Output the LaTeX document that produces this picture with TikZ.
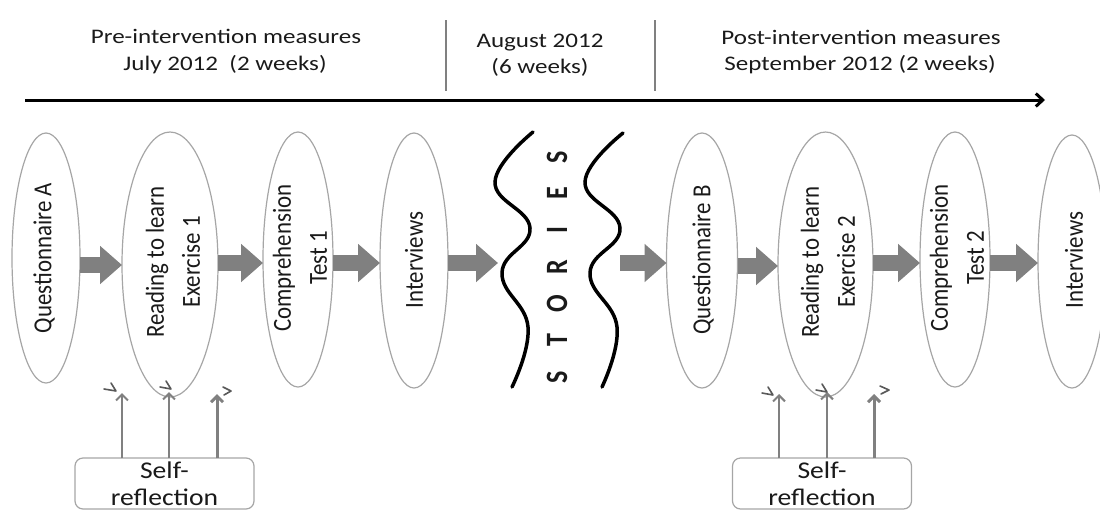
\documentclass[tikz,border=0pt]{standalone}
\usepackage{fontspec}
\setmainfont{Carlito}
\newfontfamily\hdfont[FakeStretch=1.21]{Carlito}
\newfontfamily\elfont[FakeStretch=0.88]{Carlito}
\newfontfamily\srfont[FakeStretch=1.15]{Carlito}
\newfontfamily\stfont[FakeStretch=0.84]{Carlito}
\usetikzlibrary{shapes.geometric,arrows.meta}
\definecolor{txt}{HTML}{1A1A1A}
\definecolor{edge}{HTML}{A6A6A6}
\definecolor{blockgray}{HTML}{808080}
\begin{document}
\begin{tikzpicture}[x=1pt,y=-1pt,
 ell/.style={ellipse, draw=edge, line width=1.2pt, fill=white, outer sep=0pt, inner sep=0pt},
 eltext/.style={rotate=90, align=center, text=txt, inner sep=0pt, font=\elfont\fontsize{26}{36}\selectfont},
 hd/.style={anchor=base, text=txt, inner sep=0pt, font=\hdfont\fontsize{20.7}{26}\selectfont},
 blk/.style={draw=blockgray, line width=16pt, -{Triangle[width=37pt,length=22pt]}},
 sepline/.style={draw=blockgray, line width=1.2pt},
 wave/.style={draw=black, line width=3.5pt, line cap=round},
 srbox/.style={draw=edge, line width=1.2pt, rounded corners=8pt, minimum width=179pt, minimum height=51pt, inner sep=0pt, fill=white, outer sep=0pt, align=center, text=txt, font=\srfont\fontsize{24}{27}\selectfont},
 up/.style={draw=blockgray, line width=2pt, -{Straight Barb[length=6pt,width=12pt]}},
 upthick/.style={up, line width=3pt},
 tick/.style={draw=black!65, line width=1.6pt, line cap=round, line join=round},
 stletters/.style={rotate=90, inner sep=0pt, text=txt, font=\stfont\bfseries\fontsize{31}{31}\selectfont}
]
\useasboundingbox (0,0) rectangle (1100,512);
\clip (0,0) rectangle (1100,512);

% header
\node[hd] (h1a) at (226,43.3) {Pre-intervention measures};
\node[hd] (h1b) at (225,70) {July 2012\ \ (2 weeks)};
\node[hd] (h2a) at (540,47) {August 2012};
\node[hd] (h2b) at (540,73) {(6 weeks)};
\node[hd] (h3a) at (861,44) {Post-intervention measures};
\node[hd] (h3b) at (860,70) {September 2012 (2 weeks)};
\draw[sepline] (446,20) -- (446,91);
\draw[sepline] (655,20) -- (655,91);
\coordinate (tl0) at (25,100);
\coordinate (tl1) at (1045,100);
\draw[line width=3pt, -{Straight Barb[length=7pt,width=13pt]}] (tl0) -- (tl1);

% ellipses
\node[ell, minimum width=68pt, minimum height=250pt] (e1) at (46,258) {};
\node[ell, minimum width=96pt, minimum height=265pt] (e2) at (170,264.5) {};
\node[ell, minimum width=70pt, minimum height=255pt] (e3) at (298,259.5) {};
\node[ell, minimum width=68pt, minimum height=255pt] (e4) at (414,260.5) {};
\node[ell, minimum width=71pt, minimum height=255pt] (e5) at (702,260.5) {};
\node[ell, minimum width=95pt, minimum height=265pt] (e6) at (825.5,264.5) {};
\node[ell, minimum width=70pt, minimum height=255pt] (e7) at (955,259.5) {};
\node[ell, minimum width=68pt, minimum height=253pt] (e8) at (1072,261.5) {};

\node[eltext] (t1) at (e1) [yshift=2pt] {Questionnaire A};
\node[eltext] (t2) at (173,262) {Reading to learn\\Exercise 1};
\node[eltext] (t3) at (300,258) {Comprehension\\Test 1};
\node[eltext] (t4) at (414,260) {Interviews};
\node[eltext] (t5) at (703,260) {Questionnaire B};
\node[eltext] (t6) at (828,262) {Reading to learn\\Exercise 2};
\node[eltext] (t7) at (957,258) {Comprehension\\Test 2};
\node[eltext] (t8) at (1074,260) {Interviews};

% block arrows
\coordinate (ra) at (0,265);
\coordinate (rb) at (0,263);
\coordinate (rc) at (0,266);
\coordinate (w1) at (498,263);
\coordinate (w2) at (620,263);
\draw[blk] (e1.east |- ra) -- (e2.west |- ra);
\draw[blk] (e2.east |- rb) -- (e3.west |- rb);
\draw[blk] (e3.east |- rb) -- (e4.west |- rb);
\draw[blk] (e4.east |- rb) -- (w1);
\draw[blk] (w2) -- (e5.west |- rb);
\draw[blk] (e5.east |- rc) -- (e6.west |- rc);
\draw[blk] (e6.east |- rb) -- (e7.west |- rb);
\draw[blk] (e7.east |- rb) -- (e8.west |- rb);

% stories
\draw[wave] plot[smooth, tension=0.75] coordinates {(533,132) (495,182) (530,228) (502,273) (528,327) (512,387)};
\draw[wave] plot[smooth, tension=0.75] coordinates {(623,133) (585,182) (620,228) (590,273) (617,327) (602,387)};
\node[stletters] (st) at (557,267) {\makebox[36.7pt]{S}\makebox[36.7pt]{T}\makebox[36.7pt]{O}\makebox[36.7pt]{R}\makebox[36.7pt]{I}\makebox[36.7pt]{E}\makebox[36.7pt]{S}};

% self-reflection
\node[srbox] (sr1) at (164.5,483.5) {Self-\\reflection};
\node[srbox] (sr2) at (822,483.5) {Self-\\reflection};
\coordinate (a1) at (122,393);
\coordinate (a2) at (169,392);
\coordinate (a3) at (217,394);
\coordinate (b1) at (779,394);
\coordinate (b2) at (827,392);
\coordinate (b3) at (874,394);
\draw[up] (sr1.north -| a1) -- (a1);
\draw[up] (sr1.north -| a2) -- (a2);
\draw[upthick] (sr1.north -| a3) -- (a3);
\draw[up] (sr2.north -| b1) -- (b1);
\draw[up] (sr2.north -| b2) -- (b2);
\draw[upthick] (sr2.north -| b3) -- (b3);
% small tick marks near the arrow tips
\draw[tick] (111,383) -- (116,391) -- (104,389);
\draw[tick] (166,381) -- (171,389) -- (160,387);
\draw[tick] (223,387) -- (231,391) -- (224,395);
\draw[tick] (768,387) -- (773,395) -- (762,393);
\draw[tick] (822,384) -- (827,392) -- (816,390);
\draw[tick] (880,386) -- (889,390) -- (881,394);
\end{tikzpicture}
\end{document}
